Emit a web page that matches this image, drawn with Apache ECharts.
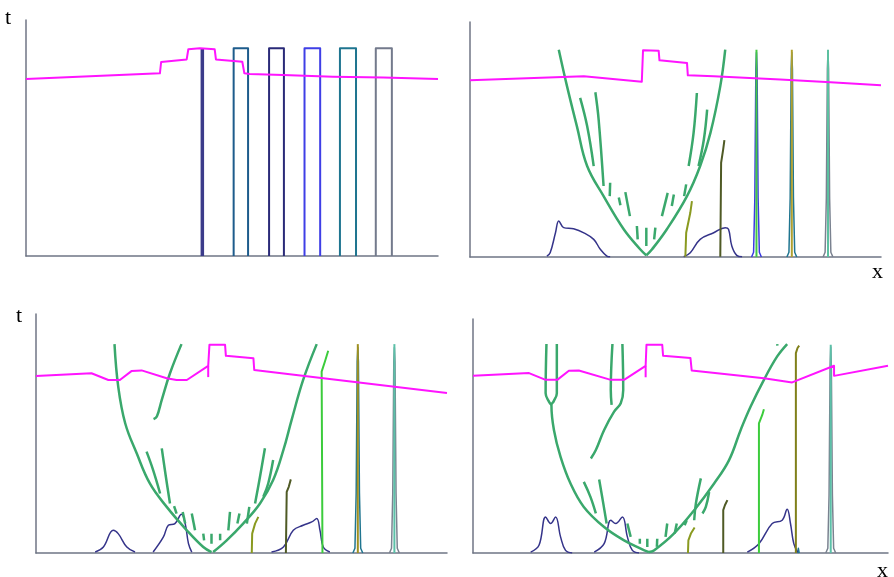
<!DOCTYPE html>
<html>
<head>
<meta charset="utf-8">
<script src="https://cdn.jsdelivr.net/npm/echarts@6/dist/echarts.min.js"></script>
<style>
  html, body { margin: 0; padding: 0; background: #fff; }
  #main { width: 894px; height: 577px; }
</style>
</head>
<body>
<div id="main"></div>
<script>
// x and t both read on a 0..100 scale per panel

// panel 1 – initial state
const magenta1 = [[0,75.0],[32.5,77.4],[32.8,82.2],[39.0,83.3],[39.4,87.6],[42.2,88.0],[45.8,87.6],[46.1,83.3],[52.5,82.3],[53.0,77.4],[54.3,77.1],[62.4,76.7],[74.5,76.0],[86.7,75.6],[100,75.0]];
const bar1 = [[42.8,0],[42.8,88]];
const rects1 = [
  [[50.4,0],[50.4,88],[53.9,88],[53.9,0]],
  [[59.0,0],[59.0,88],[62.6,88],[62.6,0]],
  [[67.6,0],[67.6,88],[71.4,88],[71.4,0]],
  [[76.2,0],[76.2,88],[80.1,88],[80.1,0]],
  [[84.9,0],[84.9,88],[88.8,88],[88.8,0]]
];
const rectColors1 = ['#1e5c8c', '#2a2a78', '#3f3fe6', '#1f7590', '#737a8c'];

// panel 2
const magenta2 = [[0,75.2],[27.7,76.9],[41.8,74.6],[42.1,88.0],[45.9,87.8],[46.1,83.7],[52.8,82.6],[53.0,77.3],[59.3,76.9],[75.5,75.5],[87.7,74.4],[100,73.1]];
const green2 = [
  [[21.6,88.2],[23.6,72.7],[26.0,55.7],[28.5,38.7],[32.5,25.9],[37.4,11.8],[41.4,3.3],[42.9,0.7]],
  [[62.1,88.2],[60.9,72.7],[58.5,52.8],[56.0,38.7],[52.8,25.9],[47.9,11.8],[44.3,3.3],[42.9,0.7]],
  [[26.8,67.7],[28.5,55.7],[30.1,38.7]],
  [[30.5,70.1],[31.3,58.5],[32.5,30.2]],
  [[55.2,69.8],[54.4,52.8],[53.2,38.7]],
  [[57.7,62.7],[56.9,50.0],[55.6,38.7]],
  [[34.1,31.6],[34.0,25.9]],
  [[36.2,25.3],[36.6,22.0]],
  [[37.8,27.6],[38.9,17.4]],
  [[40.6,13.2],[40.8,7.5]],
  [[42.9,12.5],[42.9,4.7]],
  [[45.1,12.5],[44.8,7.5]],
  [[48.1,27.3],[46.7,17.4]],
  [[49.6,26.6],[49.1,21.7]],
  [[52.6,30.9],[52.1,25.9]]
];
const bumps2 = [
  [[18.7,0.4],[19.5,1.8],[20.8,10.3],[21.6,15.3],[22.8,12.5],[25.2,12.0],[27.7,10.3],[30.1,7.5],[31.7,3.3],[33.3,0.4],[34.1,0.1]],
  [[52.0,0.1],[53.6,1.8],[56.0,7.5],[59.3,10.3],[62.1,12.5],[62.9,11.8],[63.7,4.7],[64.9,0.7],[66.2,0.1]]
];
const olive2a = [[52.4,0.1],[52.6,10.3],[53.6,18.8],[54.0,23.8]];
const olive2b = [[60.9,0.1],[61.1,40.1],[61.6,45.8],[61.9,49.7]];
const spikeLines2 = [[[69.7,0],[69.7,88.2]], [[78.3,0],[78.3,88.2]], [[87.1,0],[87.1,88.2]]];
const spikeLineColors2 = ['#44c844', '#b0a030', '#5cc0a0'];
const spikes2 = [
  [[68.5,0],[69.0,2],[69.3,25],[69.55,80],[69.7,87],[69.85,80],[70.1,25],[70.4,2],[70.9,0]],
  [[77.1,0],[77.6,2],[77.9,25],[78.15,80],[78.3,87],[78.45,80],[78.7,25],[79.0,2],[79.5,0]],
  [[85.9,0],[86.4,2],[86.7,25],[86.95,80],[87.1,87],[87.25,80],[87.5,25],[87.8,2],[88.3,0]]
];
const spikeColors2 = ['#3a3ae0', '#1f7590', '#7a8290'];

// panel 3
const magenta3 = [[0,74.1],[13.5,75.2],[17.6,72.4],[20.4,72.4],[23.3,76.2],[25.7,76.4],[31.8,73.1],[34.2,72.4],[36.7,72.4],[41.9,78.3],[42.2,87.1],[46.0,87.1],[46.2,82.5],[52.9,81.5],[53.1,76.6],[100,66.9]];
const tick3 = [[41.9,78.3],[41.9,73.6]];
const green3 = [
  [[19.1,87.4],[20.0,69.7],[21.7,54.3],[24.5,41.7],[27.7,29.1],[31.8,19.3],[36.7,9.5],[40.7,2.5],[42.7,0.4]],
  [[68.3,87.4],[65.0,72.4],[62.2,55.7],[60.2,43.1],[57.7,30.5],[54.5,20.7],[50.4,12.3],[46.4,5.3],[43.1,0.4]],
  [[35.4,87.4],[32.6,75.2],[30.6,64.1],[29.4,57.1],[28.6,56.0]],
  [[26.9,42.4],[28.5,34.7],[30.2,24.9]],
  [[30.6,43.8],[31.6,31.9],[32.6,20.7]],
  [[55.7,43.8],[54.5,31.9],[53.3,20.7]],
  [[57.7,38.9],[56.5,29.1],[55.3,23.5]],
  [[33.6,19.6],[34.2,16.5]],
  [[35.7,17.2],[36.3,12.3]],
  [[37.9,16.5],[38.7,9.5]],
  [[40.7,8.1],[40.9,5.3]],
  [[42.7,8.1],[42.7,3.9]],
  [[44.8,8.1],[44.8,5.3]],
  [[47.2,17.2],[46.8,9.5]],
  [[49.5,16.5],[49.0,12.3]],
  [[51.9,19.3],[51.3,12.3]]
];
const bumps3 = [
  [[14.4,0.4],[16.4,2.5],[18.8,9.5],[20.0,8.1],[22.1,2.5],[24.1,0.4]],
  [[28.5,0.4],[31.0,6.7],[32.2,11.6],[33.8,12.3],[35.4,16.2],[36.3,12.3],[37.1,3.9],[37.9,0.4]],
  [[57.3,0.4],[60.2,2.5],[62.6,9.5],[65.0,11.6],[67.1,13.0],[68.3,14.4],[69.1,9.5],[69.9,2.5],[71.5,0.4]]
];
const olive3a = [[52.5,0],[52.6,8.1],[53.3,12.3],[54.1,15.1]];
const olive3b = [[60.8,0],[61.0,25.6],[61.5,27.7],[62.0,30.8]];
const lime3 = [[69.7,0],[69.5,75.9],[70.3,80.1],[71.1,84.6]];
const spikeLines3 = [[[78.3,0],[78.3,87.4]], [[87.2,0],[87.2,87.4]]];
const spikeLineColors3 = ['#a09020', '#5cc0a8'];
const spikes3 = [
  [[77.1,0],[77.6,2],[77.9,25],[78.15,80],[78.3,86],[78.45,80],[78.7,25],[79.0,2],[79.5,0]],
  [[86.0,0],[86.5,2],[86.8,25],[87.05,80],[87.2,86],[87.35,80],[87.6,25],[87.9,2],[88.4,0]]
];
const spikeColors3 = ['#1f7590', '#7a8290'];

// panel 4
const magenta4 = [[0,75.7],[13.5,76.9],[17.5,74.0],[20.3,74.0],[23.1,77.9],[25.5,78.0],[33.2,74.0],[36.4,74.0],[41.6,80.0],[41.8,89.0],[45.6,89.0],[45.8,84.3],[52.4,83.3],[52.7,78.0],[70.1,74.7],[76.9,72.9],[87.0,80.0],[87.0,75.7],[100,80.0]];
const tick4 = [[41.6,80.0],[41.6,75.1]];
const green4 = [
  [[17.7,89.3],[17.5,68.3],[18.3,64.7],[18.9,63.3]],
  [[20.2,89.3],[20.2,68.3],[19.4,64.7],[18.9,63.3],[19.5,52.6],[21.1,41.1],[23.5,29.7],[26.7,19.7],[31.6,11.1],[36.4,5.4],[40.4,1.9],[42.4,0.4]],
  [[33.6,89.3],[33.2,69.7],[33.4,63.3]],
  [[36.0,89.3],[36.2,69.7],[35.6,64.0],[34.0,60.4],[31.6,52.6],[29.6,44.0],[28.4,40.4]],
  [[75.7,89.3],[73.3,84.0],[70.1,74.0],[66.9,62.6],[64.5,52.6],[61.7,39.7],[58.1,29.7],[53.3,18.3],[48.4,8.3],[43.6,1.1],[42.4,0.4]],
  [[26.7,30.4],[28.3,24.0],[29.6,16.9]],
  [[30.4,31.4],[31.4,21.1],[32.2,12.6]],
  [[54.9,31.9],[53.7,21.1],[53.3,14.0]],
  [[56.9,26.1],[56.1,19.7],[55.3,16.9]],
  [[37.2,12.6],[38.0,6.9]],
  [[40.2,6.1],[40.2,4.0]],
  [[42.0,6.1],[42.0,2.6]],
  [[44.4,6.1],[44.3,2.6]],
  [[46.8,12.6],[46.4,6.9]],
  [[49.1,12.6],[48.6,8.3]],
  [[51.5,14.0],[51.0,11.9]],
  [[73.3,89.3],[73.35,88.6]]
];
const bumps4 = [
  [[13.9,0.4],[15.9,3.3],[17.5,15.4],[18.7,12.6],[19.9,15.4],[21.1,6.9],[22.3,1.1],[23.9,0]],
  [[29.2,0.4],[31.6,4.0],[33.2,14.0],[34.4,12.6],[36.0,15.4],[37.2,6.9],[38.4,1.1],[40.0,0]],
  [[66.1,0.4],[68.9,4.0],[72.1,12.6],[74.5,14.0],[75.7,18.7],[76.5,12.6],[77.3,4.0],[78.2,0.4]]
];
const olive4a = [[51.8,0],[51.9,5.4],[52.5,8.3],[53.4,10.9]];
const olive4b = [[60.3,0],[60.3,18.3],[60.7,20.4],[61.3,22.6]];
const lime4 = [[68.9,0],[68.9,55.4],[69.7,59.0],[70.1,61.4]];
const olive4c = [[77.8,0],[77.8,85.4],[78.2,87.6],[78.6,88.6]];
const tealDot4 = [[78.2,0],[78.4,2],[78.6,0]];
const spikeLine4 = [[86.2,0],[86.2,89]];
const spike4 = [[85.0,0],[85.5,2],[85.8,25],[86.05,80],[86.2,88],[86.35,80],[86.6,25],[86.9,2],[87.4,0]];

const MAG = '#ff14ff', GREEN = '#3aa86c', NAVY = '#35348a', AXIS = '#6f7585';

const grids = [
  { left: 26, top: 20, width: 412, height: 236 },
  { left: 470, top: 22, width: 411, height: 235 },
  { left: 36, top: 314, width: 411, height: 239 },
  { left: 473, top: 319, width: 415, height: 234 }
];

function mkLine(gi, data, color, width, smooth) {
  return {
    type: 'line', xAxisIndex: gi, yAxisIndex: gi, data: data,
    showSymbol: false, smooth: smooth || false, silent: true,
    lineStyle: { color: color, width: width, join: 'round' }, z: 2
  };
}

const series = [];
// panel 1
rects1.forEach((r, i) => series.push(mkLine(0, r, rectColors1[i], 2)));
series.push(mkLine(0, bar1, '#3b3b8a', 3.5));
series.push(mkLine(0, magenta1, MAG, 2));
// panel 2
spikes2.forEach((s, i) => series.push(mkLine(1, s, spikeColors2[i], 1.5)));
spikeLines2.forEach((s, i) => series.push(mkLine(1, s, spikeLineColors2[i], 2)));
bumps2.forEach(b => series.push(mkLine(1, b, NAVY, 1.5, 0.4)));
series.push(mkLine(1, olive2a, '#8a9a20', 2));
series.push(mkLine(1, olive2b, '#4f5a25', 2));
green2.forEach(g => series.push(mkLine(1, g, GREEN, 2.5, 0.4)));
series.push(mkLine(1, magenta2, MAG, 2));
// panel 3
spikes3.forEach((s, i) => series.push(mkLine(2, s, spikeColors3[i], 1.5)));
spikeLines3.forEach((s, i) => series.push(mkLine(2, s, spikeLineColors3[i], 2)));
bumps3.forEach(b => series.push(mkLine(2, b, NAVY, 1.5, 0.4)));
series.push(mkLine(2, olive3a, '#8a9a20', 2));
series.push(mkLine(2, olive3b, '#4f5a25', 2));
series.push(mkLine(2, lime3, '#3ccc3c', 2));
green3.forEach(g => series.push(mkLine(2, g, GREEN, 2.5, 0.4)));
series.push(mkLine(2, magenta3, MAG, 2));
series.push(mkLine(2, tick3, MAG, 2));
// panel 4
series.push(mkLine(3, spike4, '#7a8290', 1.5));
series.push(mkLine(3, spikeLine4, '#5cc0a8', 2));
series.push(mkLine(3, tealDot4, '#1f7590', 1.5));
bumps4.forEach(b => series.push(mkLine(3, b, NAVY, 1.5, 0.4)));
series.push(mkLine(3, olive4a, '#8a9a20', 2));
series.push(mkLine(3, olive4b, '#4f5a25', 2));
series.push(mkLine(3, lime4, '#3ccc3c', 2));
series.push(mkLine(3, olive4c, '#80801a', 2));
green4.forEach(g => series.push(mkLine(3, g, GREEN, 2.5, 0.4)));
series.push(mkLine(3, magenta4, MAG, 2));
series.push(mkLine(3, tick4, MAG, 2));

const axisBase = {
  type: 'value', min: 0, max: 100,
  axisLine: { show: true, lineStyle: { color: AXIS, width: 1.5 } },
  axisTick: { show: false }, axisLabel: { show: false }, splitLine: { show: false }
};

const chart = echarts.init(document.getElementById('main'));
chart.setOption({
  animation: false,
  backgroundColor: '#fff',
  grid: grids,
  xAxis: grids.map((g, i) => Object.assign({ gridIndex: i }, axisBase)),
  yAxis: grids.map((g, i) => Object.assign({ gridIndex: i }, axisBase)),
  graphic: [
    { type: 'text', left: 5, top: 7, style: { text: 't', font: '22px "Liberation Serif"', fill: '#000' } },
    { type: 'text', left: 16, top: 305, style: { text: 't', font: '22px "Liberation Serif"', fill: '#000' } },
    { type: 'text', left: 872, top: 261, style: { text: 'x', font: '22px "Liberation Serif"', fill: '#000' } },
    { type: 'text', left: 877, top: 560, style: { text: 'x', font: '22px "Liberation Serif"', fill: '#000' } }
  ],
  series: series
});
</script>
</body>
</html>
